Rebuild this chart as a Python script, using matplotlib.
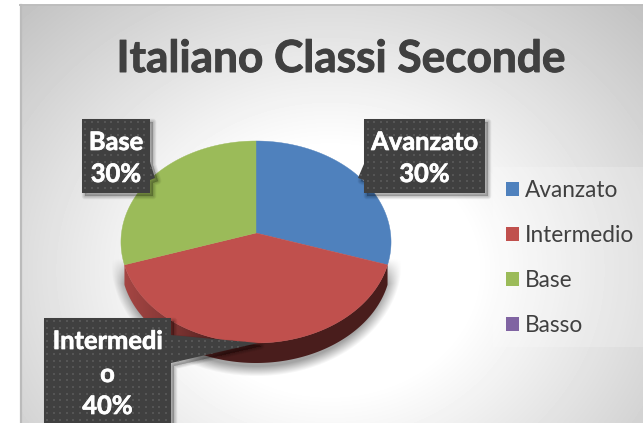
import numpy as np
import matplotlib
matplotlib.use("Agg")
import matplotlib.pyplot as plt
import matplotlib.patheffects as pe
from matplotlib.patches import Patch, Polygon, Rectangle

# ---- data ----
title = "Italiano Classi Seconde"
categories = ["Avanzato", "Intermedio", "Base", "Basso"]
values = [30, 40, 30, 0]
colors = ["#4F81BD", "#C0504D", "#9BBB59", "#8064A2"]
label_lines = {"Avanzato": ["Avanzato"], "Intermedio": ["Intermedi", "o"], "Base": ["Base"]}

plt.rcParams["font.family"] = ["Lato", "DejaVu Sans"]
W, H = 643, 423
fig = plt.figure(figsize=(W / 100, H / 100), dpi=100)
ax = fig.add_axes([0, 0, 1, 1])
ax.set_xlim(0, W)
ax.set_ylim(H, 0)
ax.axis("off")

# chart background: radial gradient
L, T = 20, 5
yy, xx = np.mgrid[T:H, L:W]
r = np.hypot((xx - 330) / 330, (yy - 270) / 280)
g = np.clip(1.0 - 0.27 * np.clip(r - 0.44, 0, None), 0, 1)
ax.imshow(g, extent=(L, W, H, T), cmap="gray", vmin=0, vmax=1, aspect="auto", zorder=0, interpolation="bilinear")
ax.plot([L + 1, L + 1], [H, T], color="#BBBBBB", lw=1.6, zorder=1)
ax.plot([L, W], [T + 0.5, T + 0.5], color="#BDBDBD", lw=1.4, zorder=1)

# legend panel
ax.add_patch(Rectangle((493, 167), 150, 180, fc="white", ec="none", alpha=0.2, zorder=1))

# pie geometry (perspective-projected disc)
CX, CY, RX, RY, B, DEPTH = 256, 242, 134.5, 101, 9, 20
C = B / RY


def project(t):
    X, Y = np.sin(t), np.cos(t)
    d = 1 + C * Y
    return CX + RX * X / d, CY - (RY * Y + B) / d


# soft pie shadow, fading in towards the bottom
yy, xx = np.mgrid[240:400, 90:420]
rho = np.hypot((xx - CX) / (RX + 11), (yy - (CY + 20)) / (RY + 13))
alpha = 0.36 * np.clip((1 - rho) / 0.09, 0, 1) * np.clip((yy - 258) / 25, 0, 1)
sh = np.zeros(alpha.shape + (4,))
sh[..., 3] = alpha
ax.imshow(sh, extent=(90, 420, 400, 240), aspect="auto", zorder=2, interpolation="bilinear")

shares = np.array(values, dtype=float)
edges = np.r_[0, np.cumsum(shares)] / shares.sum() * 2 * np.pi

# extruded side of front wedge with left-to-right shading
t0, t1 = edges[1], edges[2]
ts = np.linspace(t0, t1, 200)
px, py = project(ts)
side = Polygon(np.r_[np.c_[px, py], np.c_[px[::-1], py[::-1] + DEPTH]], closed=True, fc="none", ec="none", zorder=3)
ax.add_patch(side)
shade = np.interp(np.linspace(120, 392, 272), [120, 165, 225, 392], [0.0, 0.35, 1.0, 1.0])
c_left, c_right = np.array([0.66, 0.28, 0.27]), np.array([0.29, 0.115, 0.11])
rgb = (c_left[None, :] * (1 - shade[:, None]) + c_right[None, :] * shade[:, None])[None, :, :]
im = ax.imshow(rgb, extent=(120, 392, H, 0), aspect="auto", zorder=3)
im.set_clip_path(side)
ax.set_xlim(0, W)
ax.set_ylim(H, 0)

# top faces
for i, v in enumerate(values):
    if v == 0:
        continue
    ts = np.linspace(edges[i], edges[i + 1], 200)
    px, py = project(ts)
    cx0, cy0 = CX, CY - B
    ax.fill(np.r_[cx0, px], np.r_[cy0, py], color=colors[i], ec=colors[i], lw=0.3, zorder=4)


# data-label callouts
def callout(poly, box, lines, ys, fs=18.3):
    for k in range(8):
        ax.add_patch(Polygon(np.array(poly) + [3, 3], closed=True, fc="black", ec="black", lw=(3.6 - k * 0.5) * 1.4,
                             alpha=0.03, zorder=5, joinstyle="round"))
    p = Polygon(poly, closed=True, fc="#404040", ec="none", zorder=6)
    ax.add_patch(p)
    arr = np.array(poly)
    gx, gy = np.meshgrid(np.arange(arr[:, 0].min() + 3, arr[:, 0].max(), 6.6),
                         np.arange(arr[:, 1].min() + 3, arr[:, 1].max(), 6.6))
    sc = ax.scatter(gx.ravel(), gy.ravel(), s=2.4, marker="s", color="#555555", linewidths=0, zorder=7)
    sc.set_clip_path(p)
    for line, y in zip(lines, ys):
        ax.text((box[0] + box[1]) / 2, y + 1.5, line, color="white", fontsize=fs, fontweight="bold", ha="center", va="center", zorder=8,
                path_effects=[pe.withStroke(linewidth=0.5, foreground="white")])


pct = [f"{round(v / shares.sum() * 100)}%" for v in values]
callout([(364, 119), (485, 119), (485, 193), (364, 193), (364, 180), (358, 178), (364, 164)],
        (364, 485), label_lines["Avanzato"] + [pct[0]], [141, 173])
callout([(82, 119), (150, 119), (150, 162), (155, 178), (150, 180), (150, 193), (82, 193)],
        (82, 150), label_lines["Base"] + [pct[2]], [141, 173])
callout([(44, 318), (171, 318), (171, 335), (258, 343), (171, 363), (171, 430), (44, 430)],
        (44, 171), label_lines["Intermedio"] + [pct[1]], [340, 373, 405])

# title
ax.text(341, 59, title, fontsize=31.8, fontweight="bold", color="#404040", ha="center", va="center", zorder=8,
        path_effects=[pe.withStroke(linewidth=0.7, foreground="#404040")])

# legend
handles = [Patch(fc=c, ec="none", label=n) for n, c in zip(categories, colors)]
leg = ax.legend(handles=handles, loc="upper left", bbox_to_anchor=(506 / W, 1 - 180 / H), frameon=False,
                fontsize=16.3, labelcolor="#404040", handlelength=0.58, handleheight=0.6, handletextpad=0.27,
                labelspacing=1.06, borderpad=0, borderaxespad=0)
leg.set_zorder(8)

fig.savefig("out.png", dpi=100)
